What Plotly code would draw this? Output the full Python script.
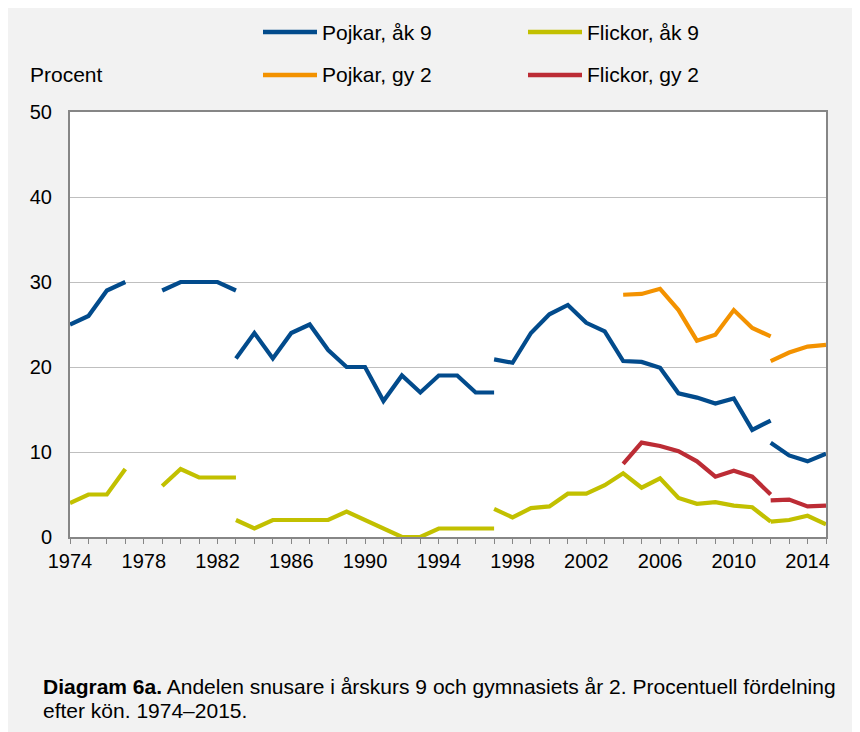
import plotly.graph_objects as go

# ---------------- data ----------------
years_a = list(range(1974, 1984))          # 1974-1983
pojkar_ak9_a = [25, 26, 29, 30, None, 29, 30, 30, 30, 29]
flickor_ak9_a = [4, 5, 5, 8, None, 6, 8, 7, 7, 7]

years_b = list(range(1983, 1998))          # 1983-1997
pojkar_ak9_b = [21, 24, 21, 24, 25, 22, 20, 20, 16, 19, 17, 19, 19, 17, 17]
flickor_ak9_b = [2, 1, 2, 2, 2, 2, 3, 2, 1, 0, 0, 1, 1, 1, 1]

years_c = list(range(1997, 2013))          # 1997-2012
pojkar_ak9_c = [20.9, 20.5, 24.0, 26.2, 27.3, 25.2, 24.2, 20.7, 20.6, 19.9,
                16.9, 16.4, 15.7, 16.3, 12.6, 13.7]
flickor_ak9_c = [3.3, 2.3, 3.4, 3.6, 5.1, 5.1, 6.1, 7.5, 5.8, 6.9,
                 4.6, 3.9, 4.1, 3.7, 3.5, 1.8]

years_gy = list(range(2004, 2013))         # 2004-2012
pojkar_gy2_c = [28.5, 28.6, 29.2, 26.7, 23.1, 23.8, 26.7, 24.6, 23.6]
flickor_gy2_c = [8.6, 11.1, 10.7, 10.1, 8.9, 7.1, 7.8, 7.1, 5.0]

years_d = list(range(2012, 2016))          # 2012-2015
pojkar_ak9_d = [11.1, 9.6, 8.9, 9.8]
flickor_ak9_d = [1.8, 2.0, 2.5, 1.5]
pojkar_gy2_d = [20.7, 21.7, 22.4, 22.6]
flickor_gy2_d = [4.3, 4.4, 3.6, 3.7]

series_names = ["Pojkar, åk 9", "Flickor, åk 9", "Pojkar, gy 2", "Flickor, gy 2"]
colors = ["#024b8c", "#c2c000", "#f39200", "#bc2c35"]

x_tick_labels = [str(y) for y in range(1974, 2015, 4)]
y_tick_values = [0, 10, 20, 30, 40, 50]

caption_line1_bold = "Diagram 6a."
caption_line1 = " Andelen snusare i årskurs 9 och gymnasiets år 2. Procentuell fördelning"
caption_line2 = "efter kön. 1974–2015."
y_title = "Procent"

# ---------------- figure ----------------
FONT = "Liberation Sans, Arial, sans-serif"
W, H = 860, 732
OFF = 8                      # page body margin
L, R, T, B = 62, 42, 104, 203
PW, PH = W - L - R, H - T - B


def px_x(x):                 # page x -> paper
    return (x - OFF - L) / PW


def px_y(y):                 # page y -> paper
    return (H - B - (y - OFF)) / PH


def join(*segs):
    xs, ys = [], []
    for i, (sx, sy) in enumerate(segs):
        if i > 0:
            xs.append(None)
            ys.append(None)
        xs += list(sx)
        ys += list(sy)
    return xs, ys


data_sets = [
    join((years_a, pojkar_ak9_a), (years_b, pojkar_ak9_b), (years_c, pojkar_ak9_c), (years_d, pojkar_ak9_d)),
    join((years_a, flickor_ak9_a), (years_b, flickor_ak9_b), (years_c, flickor_ak9_c), (years_d, flickor_ak9_d)),
    join((years_gy, pojkar_gy2_c), (years_d, pojkar_gy2_d)),
    join((years_gy, flickor_gy2_c), (years_d, flickor_gy2_d)),
]

fig = go.Figure()
for name, col, (xs, ys) in zip(series_names, colors, data_sets):
    fig.add_trace(go.Scatter(x=xs, y=ys, mode="lines", name=name,
                             line=dict(color=col, width=4.2),
                             connectgaps=False, showlegend=False))

shapes = []
annotations = []

# manual legend (2 x 2)
legend_pos = [(263, 32), (528, 32), (263, 75), (528, 75)]
for name, col, (lx, ly) in zip(series_names, colors, legend_pos):
    shapes.append(dict(type="line", xref="paper", yref="paper",
                       x0=px_x(lx), x1=px_x(lx + 54), y0=px_y(ly), y1=px_y(ly),
                       line=dict(color=col, width=4.5)))
    annotations.append(dict(xref="paper", yref="paper", x=px_x(lx + 57), y=px_y(ly),
                            xanchor="left", yanchor="middle", showarrow=False,
                            text=name, font=dict(size=21, color="black", family=FONT)))

annotations.append(dict(xref="paper", yref="paper", x=px_x(28), y=px_y(74),
                        xanchor="left", yanchor="middle", showarrow=False,
                        text=y_title, font=dict(size=21, color="black", family=FONT)))

annotations.append(dict(xref="paper", yref="paper", x=px_x(41), y=px_y(686),
                        xanchor="left", yanchor="middle", showarrow=False, align="left",
                        text="<b>" + caption_line1_bold + "</b>" + caption_line1,
                        font=dict(size=21, color="black", family=FONT)))
annotations.append(dict(xref="paper", yref="paper", x=px_x(41), y=px_y(710),
                        xanchor="left", yanchor="middle", showarrow=False, align="left",
                        text=caption_line2,
                        font=dict(size=21, color="black", family=FONT)))

fig.update_layout(
    width=W, height=H,
    margin=dict(l=L, r=R, t=T, b=B, pad=0),
    paper_bgcolor="#f2f2f2",
    plot_bgcolor="white",
    font=dict(family=FONT, size=20, color="black"),
    shapes=shapes,
    annotations=annotations,
    showlegend=False,
)

fig.update_xaxes(
    range=[1974, 2015],
    tickmode="array",
    tickvals=[int(t) for t in x_tick_labels],
    ticktext=x_tick_labels,
    ticks="outside", ticklen=5, tickwidth=1, tickcolor="#868686",
    minor=dict(dtick=1, tick0=1974, ticks="outside", ticklen=5, tickwidth=1, tickcolor="#868686", showgrid=False),
    showgrid=False, zeroline=False,
    showline=True, linecolor="#868686", linewidth=2, mirror=True,
    tickfont=dict(size=20, color="black", family=FONT),
    ticklabelstandoff=0,
)
fig.update_yaxes(
    range=[0, 50],
    tickvals=y_tick_values,
    ticks="", showgrid=True, gridcolor="#bfbfbf", gridwidth=1,
    zeroline=False,
    showline=True, linecolor="#868686", linewidth=2, mirror=True,
    tickfont=dict(size=20, color="black", family=FONT),
    ticklabelstandoff=12,
)

fig.write_html("out.html")
